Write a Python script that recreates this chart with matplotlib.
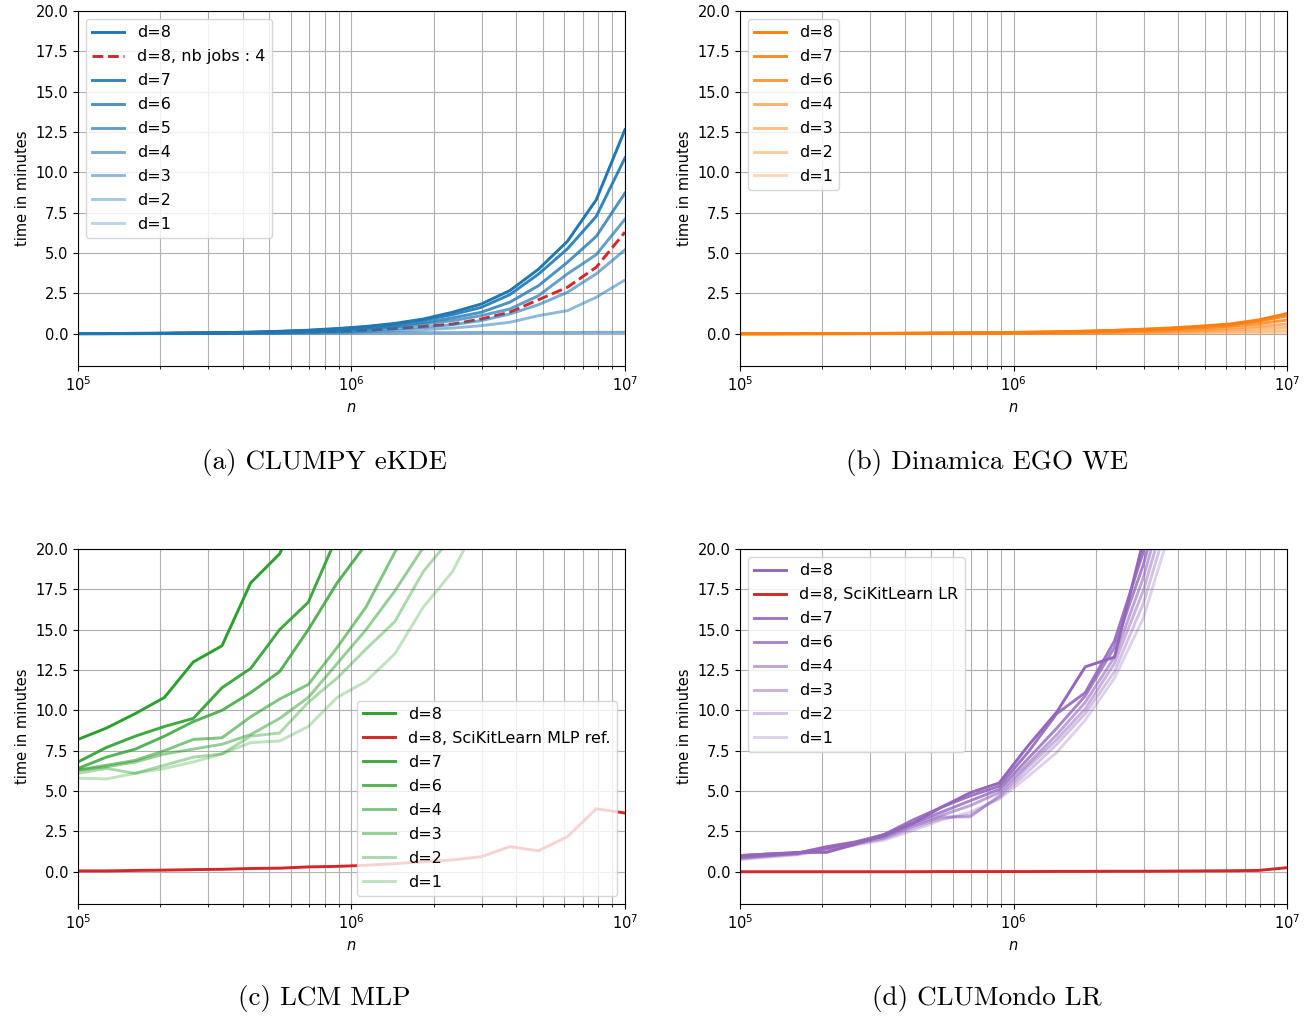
import numpy as np
import matplotlib
matplotlib.use('Agg')
import matplotlib.pyplot as plt

# sample sizes n (same grid for every panel)
n_values = [1.00e5, 1.27e5, 1.62e5, 2.07e5, 2.64e5, 3.36e5, 4.28e5, 5.46e5, 6.95e5, 8.86e5,
            1.13e6, 1.44e6, 1.83e6, 2.34e6, 2.98e6, 3.79e6, 4.83e6, 6.16e6, 7.85e6, 1.00e7]

# (a) CLUMPY eKDE
kde_d = [8, 7, 6, 5, 4, 3, 2, 1]
kde_times = [
    [0.01, 0.01, 0.02, 0.03, 0.05, 0.07, 0.10, 0.15, 0.22, 0.32, 0.45, 0.64, 0.91, 1.33, 1.84, 2.67, 4.00, 5.73, 8.30, 12.65],
    [0.01, 0.01, 0.02, 0.03, 0.04, 0.06, 0.09, 0.14, 0.20, 0.30, 0.42, 0.60, 0.85, 1.18, 1.63, 2.42, 3.70, 5.26, 7.27, 10.90],
    [0.01, 0.01, 0.02, 0.02, 0.04, 0.05, 0.08, 0.12, 0.17, 0.25, 0.36, 0.50, 0.70, 0.98, 1.33, 1.95, 2.98, 4.43, 6.03, 8.72],
    [0.01, 0.01, 0.01, 0.02, 0.03, 0.04, 0.07, 0.10, 0.14, 0.20, 0.30, 0.42, 0.60, 0.81, 1.12, 1.53, 2.36, 3.71, 4.90, 7.10],
    [0.01, 0.01, 0.01, 0.02, 0.03, 0.04, 0.05, 0.07, 0.10, 0.14, 0.20, 0.30, 0.40, 0.56, 0.81, 1.22, 1.80, 2.57, 3.71, 5.20],
    [0.00, 0.01, 0.01, 0.01, 0.02, 0.02, 0.03, 0.04, 0.06, 0.08, 0.12, 0.18, 0.25, 0.35, 0.50, 0.71, 1.12, 1.43, 2.26, 3.33],
    [0.00, 0.00, 0.01, 0.01, 0.01, 0.02, 0.02, 0.03, 0.04, 0.05, 0.06, 0.06, 0.07, 0.07, 0.08, 0.08, 0.08, 0.08, 0.09, 0.09],
    [0.00, 0.00, 0.00, 0.01, 0.01, 0.01, 0.02, 0.02, 0.03, 0.04, 0.05, 0.05, 0.06, 0.06, 0.07, 0.07, 0.07, 0.07, 0.08, 0.08],
]
kde_jobs4 = [0.01, 0.01, 0.01, 0.02, 0.03, 0.04, 0.06, 0.08, 0.11, 0.15, 0.22, 0.32, 0.45, 0.60, 0.91, 1.33, 2.11, 2.88, 4.12, 6.30]

# (b) Dinamica EGO WE
ego_d = [8, 7, 6, 4, 3, 2, 1]
ego_times = [
    [0.00, 0.00, 0.01, 0.01, 0.01, 0.02, 0.03, 0.04, 0.05, 0.07, 0.09, 0.12, 0.16, 0.21, 0.28, 0.36, 0.47, 0.60, 0.85, 1.25],
    [0.00, 0.00, 0.01, 0.01, 0.01, 0.02, 0.03, 0.04, 0.05, 0.07, 0.09, 0.11, 0.15, 0.20, 0.26, 0.33, 0.43, 0.56, 0.78, 1.10],
    [0.00, 0.00, 0.00, 0.01, 0.01, 0.02, 0.02, 0.03, 0.04, 0.06, 0.08, 0.10, 0.13, 0.17, 0.22, 0.28, 0.36, 0.47, 0.62, 0.85],
    [0.00, 0.00, 0.00, 0.01, 0.01, 0.01, 0.02, 0.03, 0.04, 0.05, 0.06, 0.08, 0.10, 0.13, 0.17, 0.21, 0.27, 0.34, 0.45, 0.60],
    [0.00, 0.00, 0.00, 0.00, 0.01, 0.01, 0.01, 0.02, 0.03, 0.04, 0.05, 0.06, 0.07, 0.09, 0.12, 0.15, 0.19, 0.23, 0.30, 0.40],
    [0.00, 0.00, 0.00, 0.00, 0.00, 0.01, 0.01, 0.01, 0.02, 0.02, 0.03, 0.03, 0.04, 0.05, 0.06, 0.08, 0.10, 0.12, 0.15, 0.20],
    [0.00, 0.00, 0.00, 0.00, 0.00, 0.00, 0.00, 0.01, 0.01, 0.01, 0.01, 0.01, 0.02, 0.02, 0.02, 0.03, 0.03, 0.04, 0.04, 0.05],
]

# (c) LCM MLP
mlp_d = [8, 7, 6, 4, 3, 2, 1]
mlp_times = [
    [8.2, 8.9, 9.8, 10.8, 13.0, 14.0, 17.9, 19.7, 23.5, 27.5, 32.0, 37.0, 43.0, 50.0, 58.0, 67.0, 77.0, 89.0, 102.0, 118.0],
    [6.8, 7.7, 8.4, 9.0, 9.5, 11.4, 12.6, 15.0, 16.7, 20.8, 24.5, 29.0, 34.0, 40.0, 47.0, 55.0, 64.0, 75.0, 87.0, 101.0],
    [6.4, 7.1, 7.6, 8.4, 9.3, 10.0, 11.1, 12.4, 15.0, 17.9, 20.3, 24.0, 28.5, 33.5, 39.5, 46.5, 54.5, 64.0, 75.0, 88.0],
    [6.3, 6.6, 6.9, 7.5, 8.2, 8.3, 9.6, 10.7, 11.6, 13.9, 16.4, 19.8, 22.5, 26.5, 31.0, 36.5, 43.0, 50.5, 59.0, 69.0],
    [6.3, 6.5, 6.8, 7.3, 7.6, 7.9, 8.5, 9.5, 10.8, 12.9, 15.0, 17.4, 20.1, 23.5, 27.5, 32.5, 38.0, 44.5, 52.0, 61.0],
    [6.1, 6.4, 6.1, 6.6, 7.1, 7.3, 8.4, 8.6, 10.5, 12.0, 13.8, 15.5, 18.6, 20.8, 24.5, 29.0, 34.0, 40.0, 47.0, 55.0],
    [5.8, 5.75, 6.1, 6.4, 6.8, 7.3, 8.0, 8.1, 9.0, 10.8, 11.8, 13.5, 16.4, 18.6, 22.0, 26.0, 30.5, 36.0, 42.0, 49.0],
]
mlp_sklearn = [0.05, 0.05, 0.08, 0.10, 0.13, 0.15, 0.20, 0.22, 0.30, 0.33, 0.40, 0.50, 0.62, 0.73, 0.93, 1.55, 1.30, 2.17, 3.90, 3.64]

# (d) CLUMondo LR
lr_d = [8, 7, 6, 4, 3, 2, 1]
lr_times = [
    [1.0, 1.1, 1.2, 1.2, 1.7, 2.3, 3.0, 4.0, 4.9, 5.5, 7.8, 9.9, 12.7, 13.3, 20.5, 27.0, 35.0, 45.0, 57.0, 72.0],
    [1.0, 1.1, 1.15, 1.55, 1.85, 2.3, 3.2, 4.0, 4.7, 5.3, 7.4, 9.8, 11.1, 14.3, 19.8, 26.5, 34.0, 44.0, 56.0, 70.0],
    [0.9, 1.05, 1.15, 1.5, 1.8, 2.2, 3.0, 3.7, 4.4, 5.1, 7.0, 8.9, 10.9, 13.9, 19.0, 25.5, 33.0, 42.5, 54.0, 68.0],
    [0.9, 1.0, 1.15, 1.45, 1.8, 2.2, 2.9, 3.5, 4.1, 4.9, 6.7, 8.5, 10.5, 13.3, 18.2, 24.5, 32.0, 41.0, 52.0, 66.0],
    [0.85, 1.0, 1.1, 1.4, 1.75, 2.1, 2.8, 3.4, 3.4, 4.7, 6.5, 8.2, 10.1, 12.9, 17.4, 23.5, 31.0, 40.0, 51.0, 64.0],
    [0.8, 0.95, 1.1, 1.4, 1.7, 2.05, 2.7, 3.3, 3.5, 4.6, 6.2, 7.9, 9.8, 12.4, 16.6, 22.5, 30.0, 38.5, 49.0, 62.0],
    [0.75, 0.9, 1.05, 1.35, 1.65, 1.95, 2.55, 3.2, 3.7, 4.5, 5.9, 7.4, 9.4, 12.0, 15.7, 21.5, 28.5, 37.0, 47.0, 60.0],
]
lr_sklearn = [0.0, 0.0, 0.0, 0.0, 0.0, 0.0, 0.0, 0.01, 0.01, 0.01, 0.01, 0.02, 0.02, 0.03, 0.03, 0.04, 0.05, 0.06, 0.08, 0.25]

captions = ['(a) CLUMPY eKDE', '(b) Dinamica EGO WE', '(c) LCM MLP', '(d) CLUMondo LR']

plt.rcParams['font.size'] = 10.5
fig = plt.figure(figsize=(13.15, 10.17), dpi=100)

W, H = 1315, 1017
axes_px = [(78, 11), (740, 11), (78, 549), (740, 549)]
axes = [fig.add_axes([x / W, 1 - (y + 355) / H, 547 / W, 355 / H]) for x, y in axes_px]


def alpha_for(d):
    return 0.2 + 0.1 * d


def draw_panel(ax, color, d_list, times, ref=None, ref_label=None, ref_style='-', legend_loc='upper left'):
    for i, (d, t) in enumerate(zip(d_list, times)):
        ax.plot(n_values, t, color=color, alpha=alpha_for(d), lw=2.1, label=f'd={d}')
        if i == 0 and ref is not None:
            ax.plot(n_values, ref, color='tab:red', lw=2.1, ls=ref_style, label=ref_label)
    ax.set_xscale('log')
    ax.set_xlim(1e5, 1e7)
    ax.set_ylim(-2, 20)
    ax.set_yticks(np.arange(0, 20.1, 2.5))
    ax.grid(True, which='both')
    ax.set_xlabel('$n$')
    ax.set_ylabel('time in minutes')
    ax.legend(loc=legend_loc, fontsize=11.5, labelspacing=0.56)


draw_panel(axes[0], 'tab:blue', kde_d, kde_times, kde_jobs4, 'd=8, nb jobs : 4', ref_style='--')
draw_panel(axes[1], 'tab:orange', ego_d, ego_times)
draw_panel(axes[2], 'tab:green', mlp_d, mlp_times, mlp_sklearn, 'd=8, SciKitLearn MLP ref.', legend_loc='lower right')
draw_panel(axes[3], 'tab:purple', lr_d, lr_times, lr_sklearn, 'd=8, SciKitLearn LR')

caption_pos = [(324, 463), (987, 463), (324, 999), (987, 999)]
for (cx, cy), cap in zip(caption_pos, captions):
    fig.text(cx / W, 1 - cy / H, cap, ha='center', va='center', fontsize=19.5, family='cmr10')

plt.savefig('out.png', dpi=100)
plt.close()
